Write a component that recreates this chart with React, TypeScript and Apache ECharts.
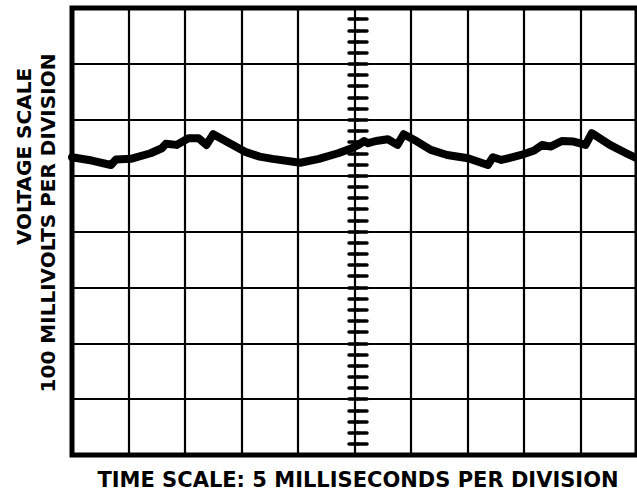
import React, { useEffect, useRef } from "react";
import * as echarts from "echarts";

// Time in divisions (5 ms / div), voltage in divisions (100 mV / div), centre = 0
const timeDiv = [
  0, 0.35, 0.69, 0.78, 1.04, 1.39, 1.59, 1.66, 1.85, 2.06, 2.24, 2.38, 2.5,
  2.79, 3.08, 3.32, 3.55, 4.04, 4.37, 4.71, 4.95, 5.07, 5.17, 5.24, 5.38,
  5.59, 5.76, 5.87, 6.11, 6.35, 6.64, 7.01, 7.36, 7.45, 7.6, 7.95, 8.18,
  8.32, 8.47, 8.67, 8.88, 9.09, 9.2, 9.52, 9.87, 10,
];
const voltDiv = [
  1.33, 1.27, 1.19, 1.29, 1.3, 1.4, 1.49, 1.57, 1.55, 1.67, 1.67, 1.55, 1.74,
  1.58, 1.42, 1.34, 1.3, 1.23, 1.3, 1.4, 1.49, 1.55, 1.62, 1.58, 1.62, 1.65,
  1.55, 1.74, 1.61, 1.46, 1.37, 1.31, 1.19, 1.33, 1.28, 1.37, 1.45, 1.55,
  1.52, 1.62, 1.61, 1.55, 1.76, 1.55, 1.37, 1.31,
];

const xTitle = "TIME SCALE: 5 MILLISECONDS PER DIVISION";
const yTitle1 = "VOLTAGE SCALE";
const yTitle2 = "100 MILLIVOLTS PER DIVISION";

export default function App() {
  const ref = useRef<HTMLDivElement>(null);
  useEffect(() => {
    if (!ref.current) return;
    const chart = echarts.init(ref.current, null, { renderer: "svg" });
    const GL = 72, GT = 8, GW = 572, GH = 447;
    const font = "bold 21px 'DejaVu Sans'";
    const yfont = "bold 20px 'DejaVu Sans'";
    const tickAxis = (inside: boolean) => ({
      type: "value",
      min: -4,
      max: 4,
      interval: 0.2,
      position: "left",
      offset: -(GW / 2),
      axisLine: { show: false },
      axisLabel: { show: false },
      splitLine: { show: false },
      axisTick: {
        show: true,
        inside,
        length: 9,
        lineStyle: { color: "#000", width: 3.5, cap: "round" },
      },
    });
    chart.setOption({
      animation: false,
      backgroundColor: "#fff",
      grid: {
        left: GL,
        top: GT,
        width: GW,
        height: GH,
        show: true,
        borderColor: "#000",
        borderWidth: 5,
        backgroundColor: "#fff",
      },
      xAxis: {
        type: "value",
        min: 0,
        max: 10,
        interval: 1,
        axisLine: { show: false },
        axisTick: { show: false },
        axisLabel: { show: false },
        splitLine: { show: true, lineStyle: { color: "#000", width: 2.2 } },
      },
      yAxis: [
        {
          type: "value",
          min: -4,
          max: 4,
          interval: 1,
          axisLine: { show: false },
          axisTick: { show: false },
          axisLabel: { show: false },
          splitLine: { show: true, lineStyle: { color: "#000", width: 2.2 } },
        },
        tickAxis(false),
        tickAxis(true),
      ],
      series: [
        {
          type: "line",
          data: timeDiv.map((t, i) => [t, voltDiv[i]]),
          showSymbol: false,
          symbol: "none",
          lineStyle: { color: "#000", width: 8, join: "round", cap: "round" },
          z: 5,
        },
      ],
      graphic: [
        {
          type: "text",
          x: 358,
          y: 479.5,
          style: {
            text: xTitle,
            font,
            fill: "#000",
            textAlign: "center",
            textVerticalAlign: "middle",
          },
        },
        {
          type: "text",
          x: 24,
          y: 156.5,
          rotation: Math.PI / 2,
          style: {
            text: yTitle1,
            font: yfont,
            fill: "#000",
            textAlign: "center",
            textVerticalAlign: "middle",
          },
        },
        {
          type: "text",
          x: 47.5,
          y: 223,
          rotation: Math.PI / 2,
          style: {
            text: yTitle2,
            font: yfont,
            fill: "#000",
            textAlign: "center",
            textVerticalAlign: "middle",
          },
        },
      ],
    });
    return () => chart.dispose();
  }, []);
  return (
    <div
      ref={ref}
      style={{ position: "fixed", left: 0, top: 0, width: 637, height: 494 }}
    />
  );
}
